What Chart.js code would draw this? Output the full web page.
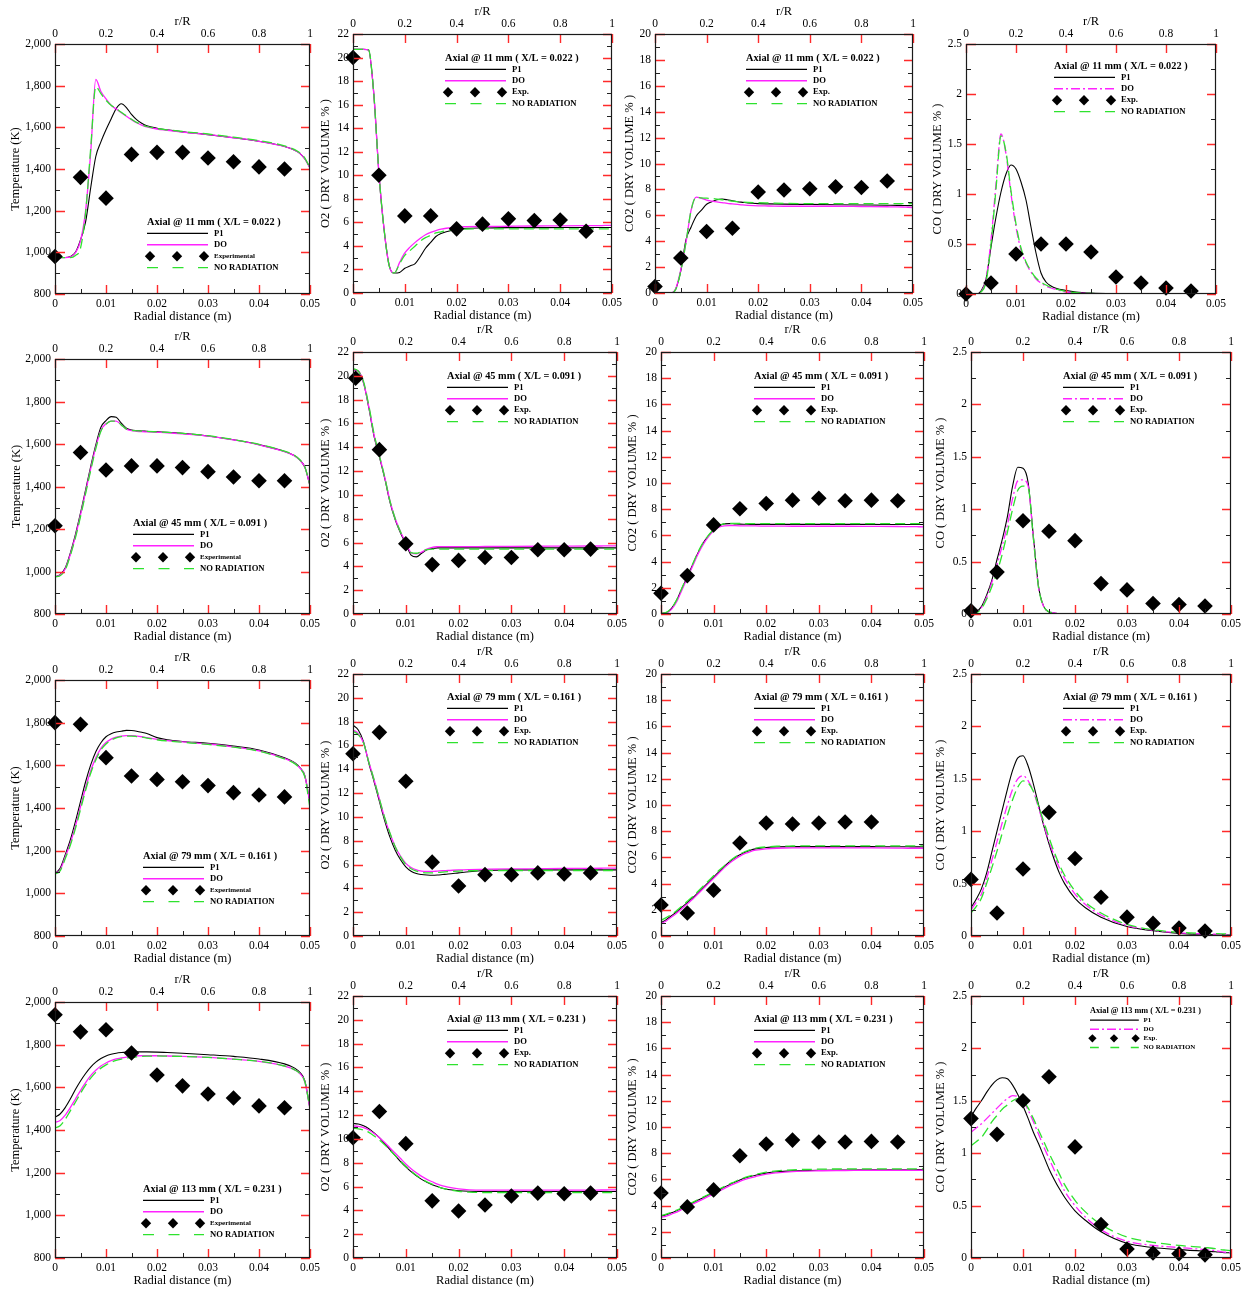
<!DOCTYPE html>
<html>
<head>
<meta charset="utf-8">
<script src="https://cdn.jsdelivr.net/npm/chart.js@4.4.1/dist/chart.umd.min.js"></script>
<style>
  html, body { margin: 0; padding: 0; background: #fff; width: 1246px; height: 1289px; overflow: hidden; position: relative; }
  canvas { position: absolute; }
</style>
</head>
<body>
<script>
// ---------- radial stations (m) ----------
const radialGrid = [0, 0.001, 0.002, 0.003, 0.004, 0.005, 0.006, 0.007, 0.008, 0.009, 0.010, 0.011, 0.012, 0.013, 0.014, 0.015, 0.016, 0.017, 0.018, 0.020, 0.022, 0.025, 0.030, 0.035, 0.040, 0.045, 0.047, 0.048, 0.049, 0.050];
const expRadial = [0, 0.005, 0.01, 0.015, 0.02, 0.025, 0.03, 0.035, 0.04, 0.045];
const expRadialO2at45 = [0.0005, 0.005, 0.01, 0.015, 0.02, 0.025, 0.03, 0.035, 0.04, 0.045];
const expRadialCO2at79 = [0, 0.005, 0.01, 0.015, 0.02, 0.025, 0.03, 0.035, 0.04];

// ---------- tick labels ----------
const radialTicks = [0, 0.01, 0.02, 0.03, 0.04, 0.05];
const rOverRTicks = [0, 0.2, 0.4, 0.6, 0.8, 1];
const tempTicks = [800, 1000, 1200, 1400, 1600, 1800, 2000];
const o2Ticks = [0, 2, 4, 6, 8, 10, 12, 14, 16, 18, 20, 22];
const co2Ticks = [0, 2, 4, 6, 8, 10, 12, 14, 16, 18, 20];
const coTicks = [0, 0.5, 1, 1.5, 2, 2.5];

const stationLabels = [
  'Axial @ 11 mm ( X/L = 0.022 )',
  'Axial @ 45 mm ( X/L = 0.091 )',
  'Axial @ 79 mm ( X/L = 0.161 )',
  'Axial @ 113 mm ( X/L = 0.231 )'
];

// ---------- 11 mm ----------
const temp11P1 = [975,975,975,980,1000,1060,1146,1310,1460,1530,1588,1640,1690,1713,1695,1662,1637,1620,1608,1596,1588,1578,1565,1550,1533,1508,1490,1475,1448,1405];
const temp11DO = [975,975,975,978,998,1055,1200,1480,1830,1772,1737,1706,1688,1670,1653,1637,1622,1611,1602,1592,1586,1577,1565,1550,1533,1508,1490,1475,1448,1405];
const temp11NR = [975,975,975,975,985,1020,1190,1500,1795,1762,1730,1706,1690,1672,1655,1639,1624,1613,1604,1594,1588,1580,1568,1553,1536,1511,1493,1478,1452,1405];
const temp11Exp = [980,1360,1260,1470,1480,1480,1453,1435,1410,1400];

const o2at11P1 = [20.7,20.7,20.7,20.65,17.0,10.2,5.4,2.3,1.7,1.75,2.1,2.3,2.5,3.1,3.8,4.3,4.8,5.05,5.2,5.4,5.5,5.52,5.55,5.55,5.56,5.56,5.56,5.56,5.56,5.56];
const o2at11DO = [20.7,20.7,20.7,20.65,17.0,10.2,5.4,2.3,1.7,2.6,3.4,3.9,4.3,4.65,4.95,5.15,5.3,5.42,5.5,5.6,5.63,5.65,5.67,5.69,5.7,5.72,5.73,5.73,5.74,5.75];
const o2at11NR = [20.7,20.7,20.7,20.65,17.0,10.2,5.4,2.3,1.7,2.5,3.2,3.6,4.0,4.4,4.7,4.9,5.1,5.2,5.3,5.4,5.43,5.45,5.45,5.45,5.45,5.45,5.45,5.45,5.45,5.45];
const o2at11Exp = [20,10,6.55,6.55,5.45,5.85,6.3,6.15,6.2,5.25];

const co2at11P1 = [0,0,0,0,0.3,1.7,4.1,5.1,5.95,6.4,6.85,7.05,7.2,7.25,7.2,7.12,7.05,7.0,6.95,6.9,6.88,6.86,6.84,6.82,6.8,6.78,6.77,6.76,6.75,6.75];
const co2at11DO = [0,0,0,0,0.3,1.8,3.9,6.4,7.4,7.3,7.18,7.1,7.03,6.98,6.92,6.88,6.84,6.8,6.77,6.73,6.72,6.7,6.7,6.7,6.68,6.66,6.65,6.64,6.62,6.6];
const co2at11NR = [0,0,0,0,0.25,1.7,3.9,6.4,7.4,7.35,7.32,7.3,7.25,7.2,7.15,7.1,7.05,7.02,7.0,6.97,6.95,6.92,6.9,6.9,6.9,6.9,6.9,6.9,6.9,6.9];
const co2at11Exp = [0.5,2.7,4.75,5.0,7.8,7.95,8.05,8.2,8.15,8.65];

const coAt11P1 = [0,0,0,0.03,0.15,0.47,0.77,1.02,1.2,1.29,1.25,1.12,0.94,0.67,0.41,0.21,0.12,0.08,0.057,0.035,0.02,0.01,0.003,0,0,0,0,0,0,0];
const coAt11DO = [0,0,0,0.02,0.15,0.54,1.1,1.6,1.4,1.0,0.67,0.44,0.31,0.22,0.15,0.11,0.08,0.06,0.045,0.02,0.012,0.005,0,0,0,0,0,0,0,0];
const coAt11NR = [0,0,0,0.02,0.12,0.5,1.05,1.58,1.42,1.03,0.7,0.46,0.32,0.23,0.16,0.12,0.09,0.065,0.05,0.025,0.014,0.006,0,0,0,0,0,0,0,0];
const coAt11Exp = [0,0.11,0.4,0.5,0.5,0.42,0.17,0.11,0.06,0.03];

// ---------- 45 mm ----------
const temp45P1 = [975,985,1016,1086,1173,1275,1384,1494,1596,1679,1710,1729,1726,1698,1674,1666,1663,1661,1660,1657,1655,1650,1638,1620,1597,1565,1545,1525,1490,1405];
const temp45DO = [975,983,1012,1080,1165,1266,1375,1484,1585,1665,1695,1708,1708,1690,1670,1663,1660,1658,1657,1655,1653,1648,1637,1619,1596,1564,1544,1524,1490,1405];
const temp45NR = [975,980,1008,1075,1158,1258,1367,1476,1578,1660,1693,1708,1708,1690,1670,1664,1662,1660,1659,1657,1655,1650,1639,1621,1598,1566,1546,1526,1492,1405];
const temp45Exp = [1215,1560,1478,1497,1497,1489,1470,1445,1427,1427];

const o2at45P1 = [20.5,20.4,19.4,17.3,14.9,13.2,11.4,9.4,7.9,6.8,5.9,4.95,4.8,5.1,5.4,5.5,5.55,5.55,5.55,5.55,5.55,5.55,5.55,5.55,5.55,5.55,5.55,5.55,5.55,5.55];
const o2at45DO = [20.5,20.4,19.4,17.4,15.0,13.3,11.5,9.5,8.0,6.9,6.0,5.15,5.05,5.2,5.45,5.6,5.65,5.66,5.66,5.66,5.66,5.67,5.68,5.69,5.7,5.71,5.71,5.72,5.72,5.72];
const o2at45NR = [20.6,20.4,19.5,17.5,15.1,13.3,11.5,9.5,8.0,6.9,5.95,5.15,5.1,5.25,5.4,5.45,5.45,5.45,5.45,5.45,5.45,5.45,5.45,5.45,5.45,5.45,5.45,5.45,5.45,5.45];
const o2at45Exp = [19.8,13.8,5.9,4.15,4.5,4.75,4.75,5.4,5.4,5.45];

const co2at45P1 = [0.05,0.1,0.43,1.07,1.96,2.85,3.75,4.64,5.4,5.96,6.42,6.73,6.88,6.9,6.88,6.86,6.85,6.84,6.84,6.84,6.84,6.84,6.84,6.84,6.84,6.83,6.83,6.83,6.83,6.83];
const co2at45DO = [0.03,0.07,0.35,0.95,1.85,2.75,3.65,4.55,5.3,5.88,6.35,6.62,6.73,6.75,6.74,6.73,6.72,6.72,6.72,6.71,6.71,6.7,6.7,6.7,6.69,6.68,6.67,6.67,6.66,6.65];
const co2at45NR = [0.05,0.12,0.45,1.1,2.0,2.9,3.8,4.7,5.45,6.0,6.45,6.75,6.88,6.92,6.92,6.91,6.9,6.9,6.9,6.9,6.9,6.9,6.9,6.9,6.9,6.9,6.9,6.9,6.9,6.9];
const co2at45Exp = [1.58,2.93,6.8,8.03,8.43,8.69,8.84,8.64,8.69,8.64];

const coAt45P1 = [0,0.02,0.07,0.18,0.32,0.52,0.71,0.93,1.22,1.4,1.39,1.25,0.74,0.26,0.07,0.02,0.01,0,0,0,0,0,0,0,0,0,0,0,0,0];
const coAt45DO = [0,0.02,0.06,0.16,0.3,0.47,0.65,0.85,1.1,1.27,1.28,1.22,0.72,0.25,0.07,0.02,0.01,0,0,0,0,0,0,0,0,0,0,0,0,0];
const coAt45NR = [0,0.01,0.05,0.14,0.26,0.4,0.57,0.78,1.0,1.18,1.22,1.2,0.72,0.25,0.07,0.02,0.01,0,0,0,0,0,0,0,0,0,0,0,0,0];
const coAt45Exp = [0.03,0.4,0.89,0.79,0.7,0.29,0.23,0.1,0.09,0.076];

// ---------- 79 mm ----------
const temp79P1 = [1093,1117,1180,1250,1336,1430,1523,1602,1664,1706,1734,1748,1756,1760,1764,1763,1760,1755,1749,1730,1720,1712,1703,1690,1672,1635,1612,1590,1550,1420];
const temp79DO = [1093,1110,1170,1235,1315,1405,1495,1575,1635,1680,1707,1723,1732,1737,1739,1739,1737,1734,1730,1722,1716,1710,1700,1687,1668,1632,1610,1588,1550,1420];
const temp79NR = [1090,1105,1162,1225,1303,1393,1483,1563,1625,1672,1700,1718,1729,1735,1737,1737,1735,1732,1728,1720,1714,1708,1698,1685,1666,1630,1608,1585,1545,1400];
const temp79Exp = [1800,1792,1636,1550,1534,1523,1505,1472,1461,1452];

const o2at79P1 = [17.7,17.3,16.3,14.5,12.95,11.3,9.7,8.3,7.2,6.4,5.8,5.43,5.24,5.16,5.12,5.1,5.12,5.16,5.2,5.3,5.4,5.5,5.55,5.55,5.55,5.55,5.55,5.55,5.55,5.55];
const o2at79DO = [17.3,17.0,16.2,14.6,13.1,11.5,9.9,8.6,7.5,6.7,6.1,5.75,5.55,5.45,5.42,5.42,5.45,5.48,5.5,5.55,5.58,5.6,5.63,5.65,5.67,5.68,5.69,5.7,5.7,5.7];
const o2at79NR = [17.2,16.9,16.2,14.6,13.1,11.5,9.95,8.65,7.5,6.65,6.0,5.65,5.45,5.35,5.3,5.3,5.33,5.37,5.4,5.45,5.48,5.5,5.5,5.5,5.5,5.5,5.5,5.5,5.5,5.5];
const o2at79Exp = [15.3,17.1,13.0,6.2,4.2,5.15,5.15,5.3,5.2,5.3];

const co2at79P1 = [1.0,1.25,1.55,1.85,2.2,2.55,2.9,3.3,3.7,4.1,4.5,4.9,5.3,5.65,5.95,6.2,6.4,6.55,6.65,6.75,6.8,6.82,6.82,6.82,6.82,6.81,6.81,6.8,6.8,6.8];
const co2at79DO = [0.95,1.15,1.45,1.75,2.1,2.45,2.8,3.2,3.6,4.0,4.4,4.8,5.2,5.55,5.85,6.1,6.3,6.45,6.55,6.65,6.7,6.72,6.72,6.72,6.72,6.71,6.7,6.7,6.7,6.7];
const co2at79NR = [1.2,1.4,1.65,1.95,2.3,2.65,3.0,3.4,3.8,4.2,4.6,5.0,5.35,5.7,6.0,6.25,6.45,6.6,6.7,6.8,6.85,6.87,6.88,6.88,6.88,6.88,6.88,6.88,6.88,6.88];
const co2at79Exp = [2.37,1.76,3.5,7.1,8.63,8.55,8.63,8.7,8.7];

const coAt79P1 = [0.27,0.35,0.45,0.6,0.8,1.0,1.2,1.4,1.58,1.7,1.72,1.62,1.45,1.25,1.05,0.88,0.73,0.6,0.5,0.36,0.27,0.18,0.09,0.05,0.025,0.015,0.012,0.011,0.01,0.01];
const coAt79DO = [0.25,0.32,0.4,0.55,0.72,0.9,1.08,1.25,1.4,1.5,1.53,1.48,1.38,1.22,1.06,0.9,0.77,0.65,0.55,0.4,0.3,0.2,0.1,0.055,0.03,0.02,0.018,0.016,0.015,0.015];
const coAt79NR = [0.22,0.28,0.36,0.5,0.65,0.81,0.98,1.15,1.3,1.42,1.48,1.46,1.38,1.24,1.09,0.94,0.8,0.68,0.58,0.43,0.32,0.22,0.11,0.06,0.035,0.025,0.022,0.021,0.02,0.02];
const coAt79Exp = [0.54,0.22,0.64,1.18,0.74,0.37,0.18,0.12,0.076,0.048];

// ---------- 113 mm ----------
const temp113P1 = [1460,1475,1505,1545,1590,1630,1665,1695,1718,1735,1747,1755,1760,1763,1765,1766,1766,1766,1766,1765,1763,1760,1753,1745,1733,1710,1690,1670,1630,1500];
const temp113DO = [1435,1445,1470,1505,1545,1585,1622,1655,1680,1700,1714,1725,1733,1738,1742,1745,1747,1748,1748,1748,1747,1745,1740,1732,1722,1700,1682,1665,1625,1500];
const temp113NR = [1410,1420,1450,1490,1530,1572,1610,1643,1670,1690,1705,1717,1726,1732,1737,1740,1743,1745,1746,1747,1746,1745,1740,1732,1722,1700,1682,1665,1625,1500];
const temp113Exp = [1940,1860,1870,1761,1658,1607,1569,1550,1513,1504];

const o2at113P1 = [11.3,11.25,11.1,10.85,10.5,10.1,9.6,9.1,8.6,8.1,7.65,7.25,6.9,6.6,6.35,6.15,6.0,5.85,5.75,5.65,5.6,5.58,5.58,5.58,5.58,5.58,5.58,5.58,5.58,5.58];
const o2at113DO = [11.1,11.05,10.95,10.75,10.45,10.1,9.7,9.25,8.8,8.35,7.9,7.5,7.15,6.85,6.6,6.4,6.2,6.05,5.95,5.8,5.72,5.7,5.7,5.7,5.7,5.7,5.71,5.71,5.72,5.72];
const o2at113NR = [10.9,10.85,10.75,10.55,10.25,9.9,9.5,9.05,8.6,8.15,7.7,7.3,6.95,6.65,6.4,6.2,6.0,5.85,5.75,5.6,5.53,5.5,5.5,5.5,5.5,5.5,5.5,5.5,5.5,5.5];
const o2at113Exp = [10.1,12.3,9.6,4.8,3.95,4.45,5.2,5.45,5.4,5.45];

const co2at113P1 = [3.2,3.3,3.45,3.6,3.8,4.0,4.2,4.4,4.6,4.8,5.0,5.2,5.4,5.6,5.78,5.95,6.1,6.22,6.32,6.48,6.58,6.65,6.7,6.72,6.73,6.73,6.74,6.74,6.75,6.75];
const co2at113DO = [3.1,3.2,3.35,3.5,3.7,3.9,4.1,4.3,4.5,4.7,4.9,5.1,5.3,5.5,5.68,5.85,6.0,6.12,6.22,6.4,6.5,6.6,6.66,6.68,6.7,6.7,6.7,6.7,6.7,6.7];
const co2at113NR = [3.25,3.35,3.5,3.65,3.85,4.05,4.25,4.45,4.65,4.85,5.05,5.25,5.45,5.65,5.82,6.0,6.15,6.27,6.37,6.55,6.65,6.73,6.78,6.8,6.8,6.8,6.8,6.8,6.8,6.8];
const co2at113Exp = [4.96,3.9,5.2,7.8,8.7,9.0,8.85,8.85,8.9,8.85];

const coAt113P1 = [1.35,1.43,1.5,1.58,1.65,1.7,1.72,1.71,1.65,1.56,1.45,1.33,1.2,1.09,0.97,0.85,0.75,0.66,0.58,0.45,0.36,0.25,0.14,0.1,0.08,0.065,0.06,0.055,0.05,0.05];
const coAt113DO = [1.2,1.24,1.28,1.33,1.38,1.43,1.48,1.52,1.55,1.54,1.5,1.41,1.3,1.18,1.06,0.95,0.84,0.74,0.64,0.5,0.39,0.27,0.16,0.12,0.1,0.08,0.07,0.06,0.055,0.05];
const coAt113NR = [1.07,1.11,1.15,1.22,1.3,1.36,1.42,1.46,1.5,1.52,1.5,1.43,1.33,1.22,1.11,1.0,0.9,0.8,0.7,0.55,0.44,0.32,0.2,0.15,0.12,0.1,0.09,0.08,0.075,0.07];
const coAt113Exp = [1.33,1.18,1.5,1.73,1.06,0.32,0.086,0.048,0.04,0.03];

// ---------- styling ----------
const SERIF = "'Liberation Serif', 'Times New Roman', serif";
const P1_COLOR = '#000000';
const DO_COLOR = '#ff22ff';
const NR_COLOR = '#2ee22e';
const TICK_RED = '#ff2a2a';

const kinds = {
  T:   { min: 800, max: 2000, ticks: tempTicks, minor: 100,  title: 'Temperature (K)',        expName: 'Experimental', doDash: [] },
  O2:  { min: 0,   max: 22,   ticks: o2Ticks,   minor: 1,    title: 'O2 ( DRY VOLUME % )',    expName: 'Exp.',         doDash: [] },
  CO2: { min: 0,   max: 20,   ticks: co2Ticks,  minor: 1,    title: 'CO2 ( DRY VOLUME % )',   expName: 'Exp.',         doDash: [] },
  CO:  { min: 0,   max: 2.5,  ticks: coTicks,   minor: 0.25, title: 'CO ( DRY VOLUME % )',    expName: 'Exp.',         doDash: [9, 3, 2, 3] }
};

// panel placement: plot box [left, top, right, bottom], y-title x, legend [x, y, scale]
const panels = [
  { kind: 'T',   st: 0, box: [55, 44, 310, 294],   ytx: 16,  leg: [147, 222, 1],     p1: temp11P1,  d: temp11DO,  nr: temp11NR,  exp: temp11Exp,  ex: expRadial },
  { kind: 'O2',  st: 0, box: [353, 34, 612, 293],  ytx: 326, leg: [445, 58, 1],      p1: o2at11P1,  d: o2at11DO,  nr: o2at11NR,  exp: o2at11Exp,  ex: expRadial },
  { kind: 'CO2', st: 0, box: [655, 34, 913, 293],  ytx: 630, leg: [746, 58, 1],      p1: co2at11P1, d: co2at11DO, nr: co2at11NR, exp: co2at11Exp, ex: expRadial },
  { kind: 'CO',  st: 0, box: [966, 44, 1216, 294], ytx: 938, leg: [1054, 66, 1],     p1: coAt11P1,  d: coAt11DO,  nr: coAt11NR,  exp: coAt11Exp,  ex: expRadial },

  { kind: 'T',   st: 1, box: [55, 359, 310, 614],   ytx: 17,  leg: [133, 523, 1],    p1: temp45P1,  d: temp45DO,  nr: temp45NR,  exp: temp45Exp,  ex: expRadial },
  { kind: 'O2',  st: 1, box: [353, 352, 617, 614],  ytx: 326, leg: [447, 376, 1],    p1: o2at45P1,  d: o2at45DO,  nr: o2at45NR,  exp: o2at45Exp,  ex: expRadialO2at45 },
  { kind: 'CO2', st: 1, box: [661, 352, 924, 614],  ytx: 633, leg: [754, 376, 1],    p1: co2at45P1, d: co2at45DO, nr: co2at45NR, exp: co2at45Exp, ex: expRadial },
  { kind: 'CO',  st: 1, box: [971, 352, 1231, 614], ytx: 941, leg: [1063, 376, 1],   p1: coAt45P1,  d: coAt45DO,  nr: coAt45NR,  exp: coAt45Exp,  ex: expRadial },

  { kind: 'T',   st: 2, box: [55, 680, 310, 936],   ytx: 16,  leg: [143, 856, 1],    p1: temp79P1,  d: temp79DO,  nr: temp79NR,  exp: temp79Exp,  ex: expRadial },
  { kind: 'O2',  st: 2, box: [353, 674, 617, 936],  ytx: 326, leg: [447, 697, 1],    p1: o2at79P1,  d: o2at79DO,  nr: o2at79NR,  exp: o2at79Exp,  ex: expRadial },
  { kind: 'CO2', st: 2, box: [661, 674, 924, 936],  ytx: 633, leg: [754, 697, 1],    p1: co2at79P1, d: co2at79DO, nr: co2at79NR, exp: co2at79Exp, ex: expRadialCO2at79 },
  { kind: 'CO',  st: 2, box: [971, 674, 1231, 936], ytx: 941, leg: [1063, 697, 1],   p1: coAt79P1,  d: coAt79DO,  nr: coAt79NR,  exp: coAt79Exp,  ex: expRadial },

  { kind: 'T',   st: 3, box: [55, 1002, 310, 1258],   ytx: 16,  leg: [143, 1189, 1],   p1: temp113P1,  d: temp113DO,  nr: temp113NR,  exp: temp113Exp,  ex: expRadial },
  { kind: 'O2',  st: 3, box: [353, 996, 617, 1258],   ytx: 326, leg: [447, 1019, 1],   p1: o2at113P1,  d: o2at113DO,  nr: o2at113NR,  exp: o2at113Exp,  ex: expRadial },
  { kind: 'CO2', st: 3, box: [661, 996, 924, 1258],   ytx: 633, leg: [754, 1019, 1],   p1: co2at113P1, d: co2at113DO, nr: co2at113NR, exp: co2at113Exp, ex: expRadial },
  { kind: 'CO',  st: 3, box: [971, 996, 1231, 1258],  ytx: 941, leg: [1090, 1011, 0.8], p1: coAt113P1, d: coAt113DO, nr: coAt113NR, exp: coAt113Exp, ex: expRadial }
];

const TOP_H = 35, BOTTOM_H = 34, RIGHT_PAD = 16, TITLE_LH = 15;

// frame, inward tick marks and the in-plot legend
const panelDeco = {
  id: 'panelDeco',
  afterDatasetsDraw(chart, args, o) {
    const ctx = chart.ctx;
    const { left, top, right, bottom } = chart.chartArea;
    const xs = chart.scales.x, x2 = chart.scales.x2, ys = chart.scales.y;
    ctx.save();
    // minor ticks
    ctx.strokeStyle = '#222';
    ctx.lineWidth = 1;
    ctx.beginPath();
    const nMinor = Math.round((o.max - o.min) / o.minor);
    for (let i = 1; i < nMinor; i++) {
      if (i % 2 === 0) continue;
      const py = Math.round(ys.getPixelForValue(o.min + i * o.minor)) + 0.5;
      ctx.moveTo(left, py); ctx.lineTo(left + 5, py);
      ctx.moveTo(right - 5, py); ctx.lineTo(right, py);
    }
    for (let i = 1; i < 10; i += 2) {
      const px = Math.round(xs.getPixelForValue(i * 0.005)) + 0.5;
      ctx.moveTo(px, bottom); ctx.lineTo(px, bottom - 5);
    }
    ctx.stroke();
    // major ticks
    ctx.strokeStyle = TICK_RED;
    ctx.lineWidth = 1.4;
    ctx.beginPath();
    o.yMajor.forEach(v => {
      const py = Math.round(ys.getPixelForValue(v)) + 0.5;
      ctx.moveTo(left, py); ctx.lineTo(left + 10, py);
      ctx.moveTo(right - 9, py); ctx.lineTo(right, py);
    });
    radialTicks.forEach(v => {
      const px = Math.round(xs.getPixelForValue(v)) + 0.5;
      ctx.moveTo(px, bottom); ctx.lineTo(px, bottom - 9);
    });
    rOverRTicks.forEach(v => {
      const px = Math.round(x2.getPixelForValue(v)) + 0.5;
      ctx.moveTo(px, top); ctx.lineTo(px, top + 9);
    });
    ctx.stroke();
    // frame
    ctx.strokeStyle = '#1a1a1a';
    ctx.lineWidth = 1.2;
    ctx.strokeRect(left + 0.5, top + 0.5, right - left - 1, bottom - top - 1);
    ctx.restore();
  },
  afterDraw(chart, args, o) {
    const ctx = chart.ctx;
    const s = o.leg[2];
    const lx = o.leg[0] - o.ox, ly = o.leg[1] - o.oy;
    const dy = 11.4 * s, len = 61 * s, tx = lx + 67 * s;
    ctx.save();
    ctx.fillStyle = '#000';
    ctx.textAlign = 'left';
    ctx.textBaseline = 'middle';
    ctx.font = `bold ${10.3 * s}px ${SERIF}`;
    ctx.fillText(o.station, lx, ly);
    const labelFont = `bold ${8.6 * s}px ${SERIF}`;
    // P1
    let y = ly + dy;
    ctx.strokeStyle = P1_COLOR; ctx.lineWidth = 1.2; ctx.setLineDash([]);
    ctx.beginPath(); ctx.moveTo(lx, y); ctx.lineTo(lx + len, y); ctx.stroke();
    ctx.font = labelFont; ctx.fillText('P1', tx, y);
    // DO
    y = ly + 2 * dy;
    ctx.strokeStyle = DO_COLOR; ctx.lineWidth = 1.4; ctx.setLineDash(o.doDash);
    ctx.beginPath(); ctx.moveTo(lx, y); ctx.lineTo(lx + len, y); ctx.stroke();
    ctx.setLineDash([]);
    ctx.fillText('DO', tx, y);
    // experimental markers
    y = ly + 3 * dy;
    [3, 30, 57].forEach(dx => {
      const cx = lx + dx * s, r = 5.2 * s;
      ctx.beginPath();
      ctx.moveTo(cx, y - r); ctx.lineTo(cx + r, y); ctx.lineTo(cx, y + r); ctx.lineTo(cx - r, y);
      ctx.closePath(); ctx.fill();
    });
    ctx.font = o.expName === 'Experimental' ? `bold ${7 * s}px ${SERIF}` : labelFont;
    ctx.fillText(o.expName, tx, y);
    // no radiation
    y = ly + 4 * dy;
    ctx.strokeStyle = NR_COLOR; ctx.lineWidth = 1.3; ctx.setLineDash([11 * s, 14.5 * s]);
    ctx.beginPath(); ctx.moveTo(lx, y); ctx.lineTo(lx + len, y); ctx.stroke();
    ctx.setLineDash([]);
    ctx.font = labelFont;
    ctx.fillText('NO RADIATION', tx, y);
    ctx.restore();
  }
};

function pairs(xs, ys) { return ys.map((v, i) => ({ x: xs[i], y: v })); }
function fixedTicks(list) { return s => { s.ticks = list.map(v => ({ value: v })); }; }
function fmt(v) { return v === 0 ? '0' : String(Number(v.toFixed(4))); }

panels.forEach(p => {
  const k = kinds[p.kind];
  const [l, t, r, b] = p.box;
  const cl = Math.round(p.ytx - 9.5);
  const titlePad = p.ytx - TITLE_LH / 2 - cl;
  const yW = l - cl;
  const ct = t - TOP_H;
  const W = r + RIGHT_PAD - cl;
  const H = (b - t) + TOP_H + BOTTOM_H;

  const canvas = document.createElement('canvas');
  canvas.width = W; canvas.height = H;
  canvas.style.left = cl + 'px'; canvas.style.top = ct + 'px';
  canvas.style.width = W + 'px'; canvas.style.height = H + 'px';
  document.body.appendChild(canvas);

  const tickFont = { family: SERIF, size: 11.5 };
  const titleFont = { family: SERIF, size: 12.5 };
  const noGrid = { display: false, drawTicks: false, tickLength: 0 };

  new Chart(canvas.getContext('2d'), {
    type: 'scatter',
    data: {
      datasets: [
        { label: k.expName, data: pairs(p.ex, p.exp), showLine: false, pointStyle: 'rectRot',
          pointRadius: 7.8, backgroundColor: '#000', borderColor: '#000', borderWidth: 0, clip: false },
        { label: 'NO RADIATION', data: pairs(radialGrid, p.nr), showLine: true, pointRadius: 0,
          borderColor: NR_COLOR, borderWidth: 1.3, borderDash: [10, 5], cubicInterpolationMode: 'monotone' },
        { label: 'DO', data: pairs(radialGrid, p.d), showLine: true, pointRadius: 0,
          borderColor: DO_COLOR, borderWidth: 1.3, borderDash: k.doDash, cubicInterpolationMode: 'monotone' },
        { label: 'P1', data: pairs(radialGrid, p.p1), showLine: true, pointRadius: 0,
          borderColor: P1_COLOR, borderWidth: 1.1, cubicInterpolationMode: 'monotone' }
      ]
    },
    options: {
      responsive: false,
      animation: false,
      events: [],
      devicePixelRatio: 1,
      layout: { padding: { left: 0, top: 0, right: RIGHT_PAD, bottom: 0 } },
      plugins: {
        legend: { display: false },
        tooltip: { enabled: false },
        panelDeco: {
          leg: p.leg, ox: cl, oy: ct, station: stationLabels[p.st], expName: k.expName, doDash: k.doDash,
          min: k.min, max: k.max, minor: k.minor, yMajor: k.ticks
        }
      },
      scales: {
        x: {
          type: 'linear', position: 'bottom', min: 0, max: 0.05,
          grid: noGrid, border: { display: false },
          ticks: { font: tickFont, color: '#000', padding: 3, maxRotation: 0, autoSkip: false, callback: v => fmt(v) },
          title: { display: true, text: 'Radial distance (m)', font: titleFont, color: '#000', padding: { top: 0, bottom: 3.5 } },
          afterBuildTicks: fixedTicks(radialTicks),
          afterFit: s => { s.height = BOTTOM_H; s.paddingLeft = 0; s.paddingRight = 0; }
        },
        x2: {
          type: 'linear', axis: 'x', position: 'top', min: 0, max: 1,
          grid: noGrid, border: { display: false },
          ticks: { font: tickFont, color: '#000', padding: 3, maxRotation: 0, autoSkip: false, callback: v => fmt(v) },
          title: { display: true, text: 'r/R', font: titleFont, color: '#000', padding: { top: 5.5, bottom: 0 } },
          afterBuildTicks: fixedTicks(rOverRTicks),
          afterFit: s => { s.height = TOP_H; s.paddingLeft = 0; s.paddingRight = 0; }
        },
        y: {
          type: 'linear', position: 'left', min: k.min, max: k.max,
          grid: noGrid, border: { display: false },
          ticks: { font: tickFont, color: '#000', padding: 4, autoSkip: false,
                   callback: v => p.kind === 'T' ? v.toLocaleString('en-US') : fmt(v) },
          title: { display: true, text: k.title, font: titleFont, color: '#000', padding: { top: titlePad, bottom: 0 } },
          afterBuildTicks: fixedTicks(k.ticks),
          afterFit: s => { s.width = yW; s.paddingTop = 0; s.paddingBottom = 0; }
        }
      }
    },
    plugins: [panelDeco]
  });
});
</script>
</body>
</html>
